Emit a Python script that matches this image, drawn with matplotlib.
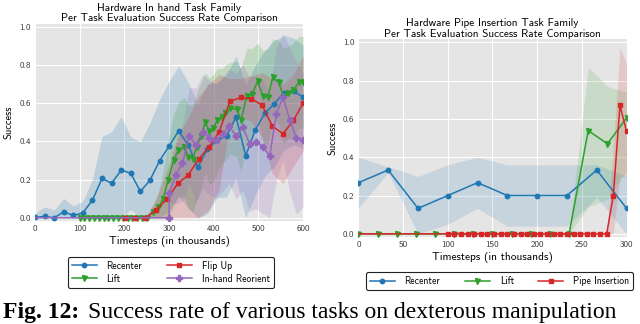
"""
Hardware task family success-rate comparison (two panels + caption)
"""
import numpy as np
import matplotlib
matplotlib.use('Agg')
import matplotlib.pyplot as plt

plt.rcParams['axes.unicode_minus'] = False
plt.rcParams['font.family'] = ['cmss10', 'DejaVu Sans']
plt.rcParams['mathtext.fontset'] = 'cm'

# ---- left panel: in-hand task family ----
recenter_x = [0, 21.4, 42.9, 64.3, 85.7, 107.1, 128.6, 150, 171.4, 192.9, 214.3, 235.7, 257.1, 278.6, 300,
              321.4, 342.9, 364.3, 385.7, 407.1, 428.6, 450, 471.4, 492.9, 514.3, 535.7, 557.1, 578.6, 600]
recenter_y = [0.002, 0.007, 0.0, 0.031, 0.012, 0.026, 0.093, 0.206, 0.181, 0.25, 0.233, 0.138, 0.196, 0.298, 0.375,
              0.455, 0.38, 0.265, 0.36, 0.405, 0.43, 0.527, 0.325, 0.46, 0.548, 0.597, 0.656, 0.662, 0.632]
recenter_sd = [0.02, 0.05, 0.04, 0.07, 0.05, 0.06, 0.11, 0.22, 0.27, 0.28, 0.19, 0.26, 0.3, 0.32, 0.34,
               0.34, 0.33, 0.33, 0.34, 0.3, 0.32, 0.32, 0.37, 0.34, 0.33, 0.33, 0.3, 0.28, 0.27]

lift_x = [100, 110, 121, 132, 143, 154, 164, 175, 186, 197, 207, 218, 229, 240, 250,
          263, 276, 287, 298, 310, 321, 334, 343, 353, 362, 371, 381, 390, 399, 408, 418, 426,
          437, 451, 461, 474, 485, 498, 510, 521, 532, 545, 556, 567, 578, 590, 600]
lift_y = [0] * 15 + [0.03, 0.055, 0.1, 0.2, 0.3, 0.356, 0.37, 0.32, 0.31, 0.373, 0.426, 0.5, 0.453, 0.47, 0.513,
                     0.53, 0.55, 0.574, 0.569, 0.513, 0.639, 0.646, 0.714, 0.636, 0.632, 0.737, 0.709, 0.639,
                     0.656, 0.667, 0.709, 0.709]
lift_sd = [0] * 15 + [0.03, 0.08, 0.15, 0.2, 0.24, 0.25, 0.26, 0.27, 0.28, 0.28, 0.28, 0.26, 0.28, 0.28, 0.27,
                      0.25, 0.25, 0.24, 0.25, 0.27, 0.25, 0.24, 0.2, 0.24, 0.25, 0.2, 0.22, 0.25, 0.24, 0.25,
                      0.24, 0.24]

flip_x = [201, 224, 247, 271, 295, 320, 343, 366, 389, 412, 436, 460, 484, 508, 531, 555, 578, 600]
flip_y = [0, 0, 0, 0.04, 0.098, 0.18, 0.225, 0.307, 0.37, 0.45, 0.61, 0.63, 0.623, 0.59, 0.48, 0.44, 0.51, 0.6]
flip_sd = [0, 0, 0, 0.06, 0.15, 0.25, 0.3, 0.33, 0.33, 0.3, 0.12, 0.1, 0.12, 0.17, 0.25, 0.26, 0.24, 0.25]

reorient_x = [0, 300, 300, 315, 330, 345, 360, 375, 390, 405, 420, 435, 450, 465, 480, 495, 510, 525,
              540, 555, 570, 585, 600]
reorient_y = [0, 0, 0.13, 0.225, 0.285, 0.43, 0.38, 0.45, 0.42, 0.405, 0.44, 0.48, 0.426, 0.475, 0.387,
              0.396, 0.373, 0.321, 0.545, 0.632, 0.513, 0.417, 0.408]
reorient_sd = [0, 0, 0.05, 0.15, 0.2, 0.25, 0.3, 0.3, 0.3, 0.3, 0.3, 0.3, 0.33, 0.33, 0.35, 0.35, 0.35,
               0.33, 0.35, 0.33, 0.38, 0.4, 0.35]

# ---- right panel: pipe insertion task family ----
p_recenter_x = [0, 33.3, 66.7, 100, 133.3, 166.7, 200, 233.3, 266.7, 300]
p_recenter_y = [0.267, 0.333, 0.133, 0.2, 0.267, 0.2, 0.2, 0.2, 0.333, 0.133]
p_recenter_lo = [0.133, 0.32, 0.0, 0.05, 0.133, 0.04, 0.04, 0.04, 0.19, 0.0]
p_recenter_hi = [0.4, 0.35, 0.3, 0.36, 0.4, 0.36, 0.36, 0.36, 0.36, 0.3]

p_lift_x = [0, 21.4, 42.9, 64.3, 85.7, 107.1, 128.6, 150, 171.4, 192.9, 214.3, 235.7, 257.1, 278.6, 300]
p_lift_y = [0] * 12 + [0.539, 0.47, 0.605]
p_lift_lo = [0] * 12 + [0.14, 0.18, 0.33]
p_lift_hi = [0] * 12 + [0.87, 0.77, 0.74]

p_pipe_x = [0, 100, 107.4, 114.8, 122.2, 129.6, 137, 144.4, 151.9, 159.3, 166.7, 174.1, 181.5, 188.9,
            196.3, 203.7, 211.1, 218.5, 225.9, 233.3, 240.7, 248.1, 255.6, 263, 270.4, 277.8, 285.2,
            292.6, 300]
p_pipe_y = [0] * 26 + [0.2, 0.67, 0.535]
p_pipe_lo = [0] * 26 + [0.0, 0.3, 0.3]
p_pipe_hi = [0] * 26 + [0.45, 0.97, 0.89]

BLUE, GREEN, RED, PURPLE = '#1f77b4', '#2ca02c', '#d62728', '#9467bd'
BG = '#e5e5e5'


def style_axes(ax, xmax, xstep, title):
    ax.set_facecolor(BG)
    for s in ax.spines.values():
        s.set_visible(False)
    ax.set_xlim(0, xmax)
    ax.set_ylim(-0.015, 1.015)
    ax.set_xticks(np.arange(0, xmax + 1, xstep))
    ax.set_yticks([0.0, 0.2, 0.4, 0.6, 0.8, 1.0])
    ax.set_yticklabels(['0.0', '0.2', '0.4', '0.6', '0.8', '1.0'])
    ax.grid(True, color='white', linewidth=0.8)
    ax.set_axisbelow(True)
    ax.tick_params(length=0, labelsize=6.5, labelcolor='#333333', pad=3)
    ax.set_xlabel('Timesteps (in thousands)', fontsize=8.2, labelpad=2)
    ax.set_ylabel('Success', fontsize=7.5, labelpad=4)
    ax.set_title(title, fontsize=8, pad=2, linespacing=1.05)


def band(ax, x, y, sd, color, alpha=0.2):
    y = np.array(y)
    sd = np.array(sd)
    ax.fill_between(x, np.clip(y - sd, 0, 1), np.clip(y + sd, 0, 1), color=color, alpha=alpha, lw=0)


def add_legend(ax, anchor, ncol):
    leg = ax.legend(loc='upper center', bbox_to_anchor=anchor, ncol=ncol, fontsize=7,
                    numpoints=1, handlelength=2.6, columnspacing=2.5, handletextpad=1.0,
                    labelspacing=0.3, borderpad=0.4, fancybox=True, framealpha=1)
    leg.get_frame().set_edgecolor('#222222')
    leg.get_frame().set_linewidth(0.8)


fig = plt.figure(figsize=(6.4, 3.24), dpi=100)
ax1 = fig.add_axes([0.0547, 0.319, 0.419, 0.607])
ax2 = fig.add_axes([0.560, 0.2694, 0.419, 0.609])

# 左图
band(ax1, recenter_x, recenter_y, recenter_sd, BLUE)
band(ax1, lift_x, lift_y, lift_sd, GREEN)
band(ax1, flip_x, flip_y, flip_sd, RED)
band(ax1, reorient_x, reorient_y, reorient_sd, PURPLE)
ax1.plot(recenter_x, recenter_y, color=BLUE, marker='o', ms=3.2, lw=1.1, label='Recenter')
ax1.plot(lift_x, lift_y, color=GREEN, marker='v', ms=3.6, lw=1.1, label='Lift')
ax1.plot(flip_x, flip_y, color=RED, marker='s', ms=3.2, lw=1.1, label='Flip Up')
ax1.plot(reorient_x, reorient_y, color=PURPLE, marker='P', ms=4, lw=1.1, label='In-hand Reorient',
         markevery=list(range(1, len(reorient_x))))
style_axes(ax1, 600, 100, 'Hardware In hand Task Family\nPer Task Evaluation Success Rate Comparison')
add_legend(ax1, (0.506, -0.16), 2)

# 右图
ax2.fill_between(p_recenter_x, p_recenter_lo, p_recenter_hi, color=BLUE, alpha=0.15, lw=0)
ax2.fill_between(p_lift_x, p_lift_lo, p_lift_hi, color=GREEN, alpha=0.15, lw=0)
ax2.fill_between(p_pipe_x, p_pipe_lo, p_pipe_hi, color=RED, alpha=0.15, lw=0)
ax2.plot(p_recenter_x, p_recenter_y, color=BLUE, marker='o', ms=3.2, lw=1.1, label='Recenter')
ax2.plot(p_lift_x, p_lift_y, color=GREEN, marker='v', ms=3.6, lw=1.1, label='Lift')
ax2.plot(p_pipe_x, p_pipe_y, color=RED, marker='s', ms=3.2, lw=1.1, label='Pipe Insertion',
         markevery=list(range(1, len(p_pipe_x))))
style_axes(ax2, 300, 50, 'Hardware Pipe Insertion Task Family\nPer Task Evaluation Success Rate Comparison')
add_legend(ax2, (0.526, -0.155), 3)

# caption
fig.text(0.004, 0.019, 'Fig. 12:', family='Liberation Serif', fontsize=17, weight='bold', va='baseline')
fig.text(0.1375, 0.019, 'Success rate of various tasks on dexterous manipulation',
         family='Liberation Serif', fontsize=17, va='baseline')

fig.savefig('out.png', dpi=100)
